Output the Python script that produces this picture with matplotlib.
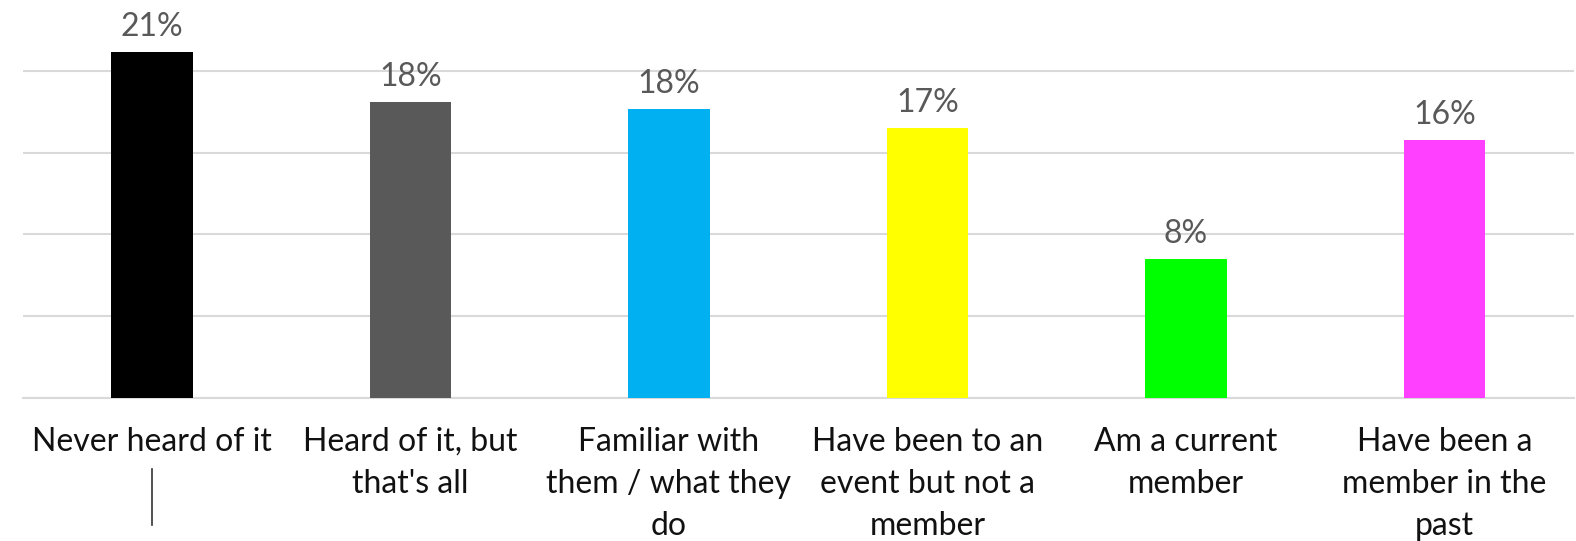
import numpy as np
from matplotlib import pyplot as plt
from matplotlib import transforms

categories = [
    "Never heard of it",
    "Heard of it, but\nthat's all",
    "Familiar with\nthem / what they\ndo",
    "Have been to an\nevent but not a\nmember",
    "Am a current\nmember",
    "Have been a\nmember in the\npast",
]
values = [21.2, 18.1, 17.7, 16.5, 8.5, 15.8]
value_labels = ["21%", "18%", "18%", "17%", "8%", "16%"]
colors = ["#000000", "#595959", "#00B0F0", "#FFFF00", "#00FF00", "#FF40FF"]

plt.rcParams["font.family"] = ["Lato", "DejaVu Sans"]

fig = plt.figure(figsize=(15.76, 5.41), dpi=100)
ax = fig.add_axes([22.75 / 1576, 143.5 / 541, 1551 / 1576, 397.5 / 541])

x = np.arange(len(categories))
bars = ax.bar(x, values, width=0.315, color=colors, zorder=3)

for b, lab in zip(bars, value_labels):
    ax.text(b.get_x() + b.get_width() / 2, b.get_height() + 0.6, lab,
            ha="center", va="bottom", fontsize=23, color="#595959")

ax.set_xlim(-0.5, len(categories) - 0.5)
ax.set_ylim(0, 24.36)
ax.set_yticks([0, 5, 10, 15, 20])
ax.yaxis.grid(True, color="#D9D9D9", linewidth=1.5, zorder=0)
ax.tick_params(axis="y", left=False, labelleft=False)
ax.tick_params(axis="x", length=0, pad=21)
ax.set_xticks(x)
ax.set_xticklabels(categories, fontsize=23, color="#111111", linespacing=1.5)
for s in ["top", "right", "left"]:
    ax.spines[s].set_visible(False)
ax.spines["bottom"].set_color("#D9D9D9")
ax.spines["bottom"].set_linewidth(1.5)

# stray vertical mark under the first label
trans = transforms.blended_transform_factory(ax.transData, fig.transFigure)
ax.plot([0, 0], [1 - 469 / 541, 1 - 525 / 541], color="#333333", lw=1.2,
        transform=trans, clip_on=False)

fig.savefig("out.png", dpi=100)
